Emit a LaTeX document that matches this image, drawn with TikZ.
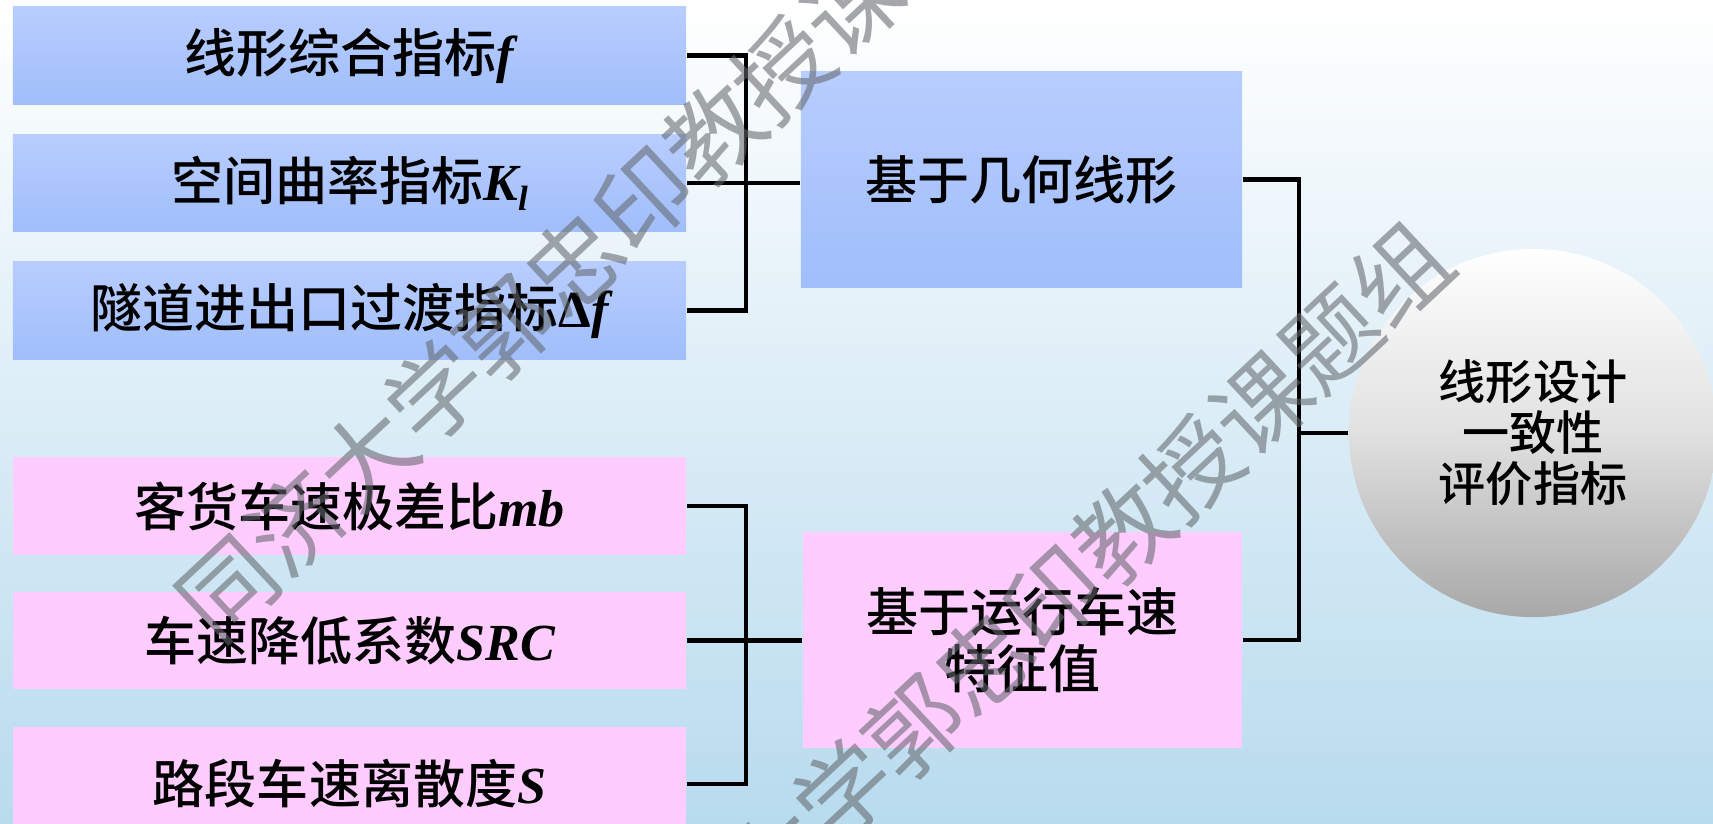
\documentclass[tikz,border=0pt]{standalone}
\usepackage{fontspec}
\setmainfont{Liberation Serif}
\newfontfamily\cjk{Noto Sans CJK SC}[BoldFont={Noto Sans CJK SC Medium}]
\newfontfamily\cjkwm{Noto Sans CJK SC}
\definecolor{bgmid}{RGB}{226,241,249}
\definecolor{bgbot}{RGB}{184,219,238}
\definecolor{bluetop}{RGB}{184,205,255}
\definecolor{bluebot}{RGB}{160,190,250}
\definecolor{pinkbox}{RGB}{255,204,255}
\definecolor{wmgray}{RGB}{100,105,110}
\definecolor{ballbot}{RGB}{168,168,168}
\newcommand{\lat}[1]{{\rmfamily\bfseries\itshape #1}}
\newcommand{\latup}[1]{{\rmfamily\bfseries #1}}
\begin{document}
\begin{tikzpicture}[x=0.01cm,y=-0.01cm,
  leaf/.style={minimum width=6.73cm, minimum height=0.97cm, inner sep=0pt,
    font=\cjk\bfseries\fontsize{14.8}{17}\selectfont},
  bluebox/.style={top color=bluetop, bottom color=bluebot},
  pinkfill/.style={fill=pinkbox},
  mid/.style={minimum width=4.41cm, minimum height=2.15cm, inner sep=0pt, align=center,
    font=\cjk\bfseries\fontsize{14.8}{16.2}\selectfont},
  link/.style={line width=1.2pt, line join=miter},
  wm/.style={rotate=43, text=wmgray, text opacity=0.58, font=\cjkwm\fontsize{27}{27}\selectfont}
]
\useasboundingbox (0,0) rectangle (1713,823);
\shade[top color=white, middle color=bgmid, bottom color=bgbot] (0,0) rectangle (1713,823);

% left column
\node[leaf,bluebox] (b1) at (349.5,55.5) {线形综合指标\lat{f}};
\node[leaf,bluebox] (b2) at (349.5,183) {空间曲率指标\lat{K}\raisebox{-0.35ex}{\fontsize{10}{10}\selectfont\lat{l}}};
\node[leaf,bluebox] (b3) at (349.5,310.5) {隧道进出口过渡指标\latup{Δ}\lat{f}};
\node[leaf,pinkfill] (p1) at (349.5,506) {客货车速极差比\lat{mb}};
\node[leaf,pinkfill] (p2) at (349.5,640.5) {车速降低系数\lat{SRC}};
\node[leaf,pinkfill,minimum height=1.14cm] (p3) at (349.5,784) {路段车速离散度\lat{S}};

% middle column
\node[mid,bluebox] (cb) at (1021.5,179.5) {基于几何线形};
\node[mid,pinkfill,minimum width=4.39cm, minimum height=2.16cm] (cp) at (1022.5,640) {基于运行车速\\特征值};

% ball
\node[circle, minimum size=3.68cm, inner sep=0pt, top color=white, bottom color=ballbot,
  middle color=white!88!black, align=center,
  font=\cjk\bfseries\fontsize{13.4}{14.5}\selectfont] (c) at (1533,433) {线形设计\\一致性\\评价指标};

% connectors
\coordinate (jx) at (746,0);
\coordinate (kx) at (1299,0);
\draw[link] (b1.east) -- (b1.east -| jx) -- (b3.east -| jx) -- (b3.east);
\draw[link] (b2.east) -- (b2.east -| cb.west);
\draw[link] (p1.east) -- (p1.east -| jx) -- (p3.east -| jx) -- (p3.east);
\draw[link] (p2.east) -- (p2.east -| cp.west);
\draw[link] (cb.east) -- (cb.east -| kx) -- (cp.east -| kx) -- (cp.east);
\draw[link] (c.west -| kx) -- (c.west);

% watermark
\node[wm] (wm1) at (609,231) {同济大学郭忠印教授课题组};
\node[wm] (wm2) at (1018,630) {同济大学郭忠印教授课题组};
\end{tikzpicture}
\end{document}
